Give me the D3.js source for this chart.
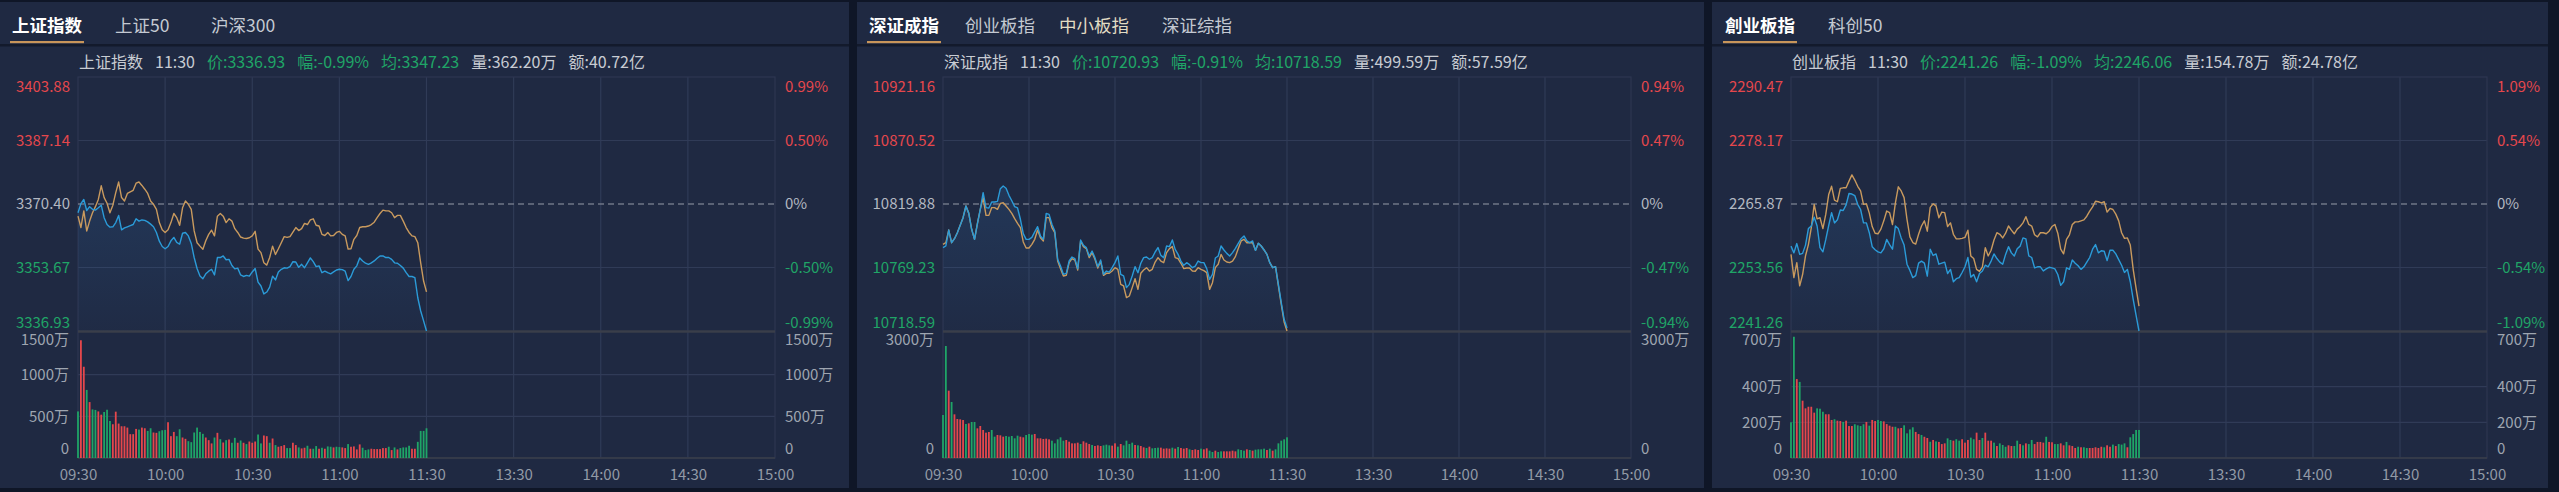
<!DOCTYPE html>
<html><head><meta charset="utf-8">
<script src="https://cdn.jsdelivr.net/npm/d3@7"></script>
<style>
html,body{margin:0;padding:0;background:#0f1627;}
svg{display:block;}
text{font-family:"Noto Sans CJK SC","Noto Sans",sans-serif;}
</style></head><body>
<svg id="c" width="2559" height="492"></svg>
<script>
// ---------------- DATA ----------------
const timeLabels = ["09:30","10:00","10:30","11:00","11:30","13:30","14:00","14:30","15:00"];
const timeTickIdx = [0,30,60,90,120,150,180,210,240];

// 上证指数
const shTabs = ["上证指数","上证50","沪深300"];
const shInfo = ["上证指数","11:30","价:3336.93","幅:-0.99%","均:3347.23","量:362.20万","额:40.72亿"];
const shYTicks = [3403.88,3387.14,3370.40,3353.67,3336.93];
const shPct = ["0.99%","0.50%","0%","-0.50%","-0.99%"];
const shVolTicks = [1500,1000,500,0];
const shPrice = [3368.1,3370.5,3371.6,3368.7,3369.7,3369.0,3368.8,3369.4,3370.1,3366.8,
3365.0,3364.3,3364.4,3365.5,3367.4,3363.6,3364.1,3364.4,3364.7,3365.0,
3366.5,3365.9,3366.2,3366.1,3365.7,3365.1,3364.4,3362.9,3360.6,3359.2,
3358.6,3359.2,3360.7,3361.6,3360.3,3359.8,3362.7,3362.9,3362.0,3360.0,
3356.3,3353.4,3351.4,3350.7,3352.0,3352.7,3353.2,3351.7,3356.3,3356.3,
3356.7,3355.7,3355.8,3354.2,3353.3,3353.5,3351.7,3351.3,3351.6,3351.4,
3352.5,3353.4,3349.8,3348.8,3346.7,3347.2,3348.5,3351.4,3350.4,3352.5,
3353.2,3353.6,3353.5,3353.9,3355.2,3355.1,3353.7,3354.5,3353.6,3354.9,
3356.2,3355.2,3353.9,3354.1,3352.3,3352.7,3352.3,3352.0,3352.5,3353.0,
3353.2,3353.1,3352.7,3350.2,3351.3,3353.2,3354.1,3356.2,3355.4,3354.8,
3354.5,3354.9,3355.4,3356.1,3356.7,3356.7,3356.3,3356.3,3355.8,3354.9,
3354.8,3354.2,3353.5,3352.3,3351.3,3351.3,3351.0,3345.7,3342.2,3339.6,
3336.93];
const shAvg = [3367.2,3364.2,3368.6,3363.3,3365.9,3368.1,3369.7,3371.6,3375.2,3372.1,
3370.6,3368.1,3370.1,3373.4,3376.2,3372.1,3371.2,3373.2,3373.6,3374.0,
3375.9,3376.2,3375.3,3374.3,3373.2,3371.2,3370.3,3369.0,3365.5,3363.6,
3362.9,3363.6,3365.5,3367.9,3366.8,3364.8,3369.4,3371.2,3370.3,3369.0,
3363.3,3360.2,3359.3,3358.5,3360.7,3362.4,3363.5,3362.0,3367.2,3367.9,
3367.2,3365.5,3366.5,3365.9,3363.9,3362.9,3361.7,3361.4,3361.3,3361.5,
3362.0,3363.2,3358.5,3357.6,3354.9,3354.3,3356.3,3359.3,3357.1,3358.6,
3360.2,3361.8,3361.6,3361.8,3363.0,3364.2,3363.4,3363.9,3365.3,3365.0,
3366.2,3366.5,3364.8,3364.6,3362.4,3362.1,3362.9,3362.0,3362.1,3362.9,
3363.2,3362.4,3362.0,3358.5,3358.6,3361.1,3362.1,3364.2,3364.4,3364.4,
3364.6,3365.0,3365.6,3366.8,3367.9,3368.8,3368.6,3368.6,3368.1,3366.8,
3367.4,3367.4,3365.9,3364.2,3362.9,3362.0,3361.8,3360.2,3354.9,3350.1,
3347.23];
const shVol = [559,1413,1095,817,671,583,577,559,520,552,
579,444,405,556,413,381,381,365,286,286,
349,341,365,357,325,357,306,302,321,333,
337,429,262,313,262,345,246,230,202,190,
306,365,313,290,246,214,175,246,302,226,
186,214,222,183,242,183,210,183,167,198,
183,198,282,175,270,262,183,234,155,135,
143,155,119,119,183,155,127,115,123,147,
111,111,143,111,123,111,139,135,127,135,
131,127,119,167,135,139,103,163,123,95,
103,111,107,107,107,119,119,135,95,127,
103,119,127,127,147,111,111,194,325,325,
357];
const shDir = ("GRRGRGGRRG"+"GGRRRRRRRR"+"RGRRGGRRGG"+"GRRRGGRRGG"+"GGGGRRRGRG"+"RGRGGRGRGR"+
"RRGGRRGRGR"+"RRGGRRGRRG"+"RGGRGRGGRG"+"GRRGRRRRGG"+"GRRRRRRGRG"+"RGGGGRRGGG"+"G").split("");

// 深证成指
const szTabs = ["深证成指","创业板指","中小板指","深证综指"];
const szInfo = ["深证成指","11:30","价:10720.93","幅:-0.91%","均:10718.59","量:499.59万","额:57.59亿"];
const szYTicks = [10921.16,10870.52,10819.88,10769.23,10718.59];
const szPct = ["0.94%","0.47%","0%","-0.47%","-0.94%"];
const szVolTicks = [3000,0];
const szPrice = [10785.1,10786.4,10799.1,10789.0,10792.2,10797.0,10802.9,10809.0,10818.3,10812.4,
10799.7,10791.7,10804.2,10815.6,10828.9,10817.0,10816.7,10821.5,10821.5,10822.0,
10832.1,10834.2,10832.4,10826.8,10822.5,10817.8,10816.7,10807.7,10796.2,10791.7,
10791.7,10793.3,10797.6,10801.8,10794.4,10791.7,10812.4,10811.6,10803.7,10798.3,
10775.8,10770.4,10763.8,10764.6,10774.4,10777.6,10776.3,10768.3,10791.2,10786.9,
10785.1,10778.4,10782.4,10777.1,10769.9,10775.2,10763.8,10766.4,10765.6,10769.1,
10773.1,10778.4,10763.8,10762.5,10753.2,10755.8,10762.5,10769.9,10765.1,10772.6,
10777.1,10777.6,10775.8,10777.1,10781.6,10785.1,10778.9,10777.1,10786.4,10785.9,
10791.2,10783.7,10779.7,10774.4,10771.0,10773.1,10771.5,10769.1,10770.4,10774.4,
10773.1,10773.1,10768.3,10759.8,10763.8,10776.8,10778.4,10786.4,10783.2,10780.5,
10778.4,10781.1,10784.5,10788.5,10792.2,10794.4,10790.4,10789.0,10790.4,10782.9,
10788.5,10786.4,10783.2,10779.7,10773.1,10769.1,10769.9,10755.8,10741.2,10727.9,
10720.93];
const szAvg = [10787.7,10789.0,10799.1,10789.0,10792.2,10797.0,10802.9,10809.0,10818.3,10812.4,
10799.7,10791.7,10804.2,10815.6,10824.9,10810.8,10810.8,10817.0,10817.0,10815.6,
10820.4,10820.9,10818.3,10815.6,10812.4,10808.2,10804.5,10801.0,10789.6,10784.8,
10784.8,10787.7,10791.7,10799.1,10793.0,10790.4,10809.0,10809.0,10801.0,10797.0,
10774.4,10768.3,10762.5,10763.0,10773.1,10776.3,10775.2,10767.2,10790.4,10785.9,
10784.3,10777.1,10781.1,10775.8,10768.8,10774.2,10763.0,10764.6,10764.6,10766.4,
10769.1,10767.8,10755.8,10754.5,10745.2,10746.5,10753.2,10760.3,10751.8,10764.6,
10767.2,10769.1,10766.4,10767.8,10773.6,10777.1,10774.4,10773.1,10781.1,10784.3,
10785.9,10777.1,10776.3,10772.6,10768.3,10768.8,10768.8,10766.4,10766.2,10769.1,
10767.8,10766.7,10765.1,10751.8,10757.1,10769.1,10771.8,10779.7,10775.2,10773.6,
10773.1,10774.4,10777.9,10784.3,10790.4,10791.7,10789.0,10789.0,10789.0,10782.9,
10788.5,10786.4,10783.2,10779.7,10773.1,10769.1,10769.9,10754.5,10739.9,10725.8,
10718.59];
const szVol = [1032,2688,1616,1344,1048,936,928,912,816,832,
864,864,712,768,672,608,624,672,512,552,
544,512,528,512,528,472,536,512,496,552,
576,560,576,472,472,456,464,448,416,352,
448,496,416,432,392,352,352,368,336,400,
368,336,312,288,304,288,304,320,304,296,
352,272,336,304,416,336,368,312,304,288,
256,240,272,232,240,248,248,224,232,224,
248,224,264,240,224,240,208,192,208,192,
224,208,232,176,144,176,144,160,160,160,
160,176,160,208,192,176,208,192,176,200,
208,208,224,192,224,176,208,352,416,448,
496];
const szDir = ("GGRGRRRRGR"+"GGRRRRRGGR"+"RRGGGGGRRG"+"GGRRRRRRGG"+"GGGRRRRRGR"+"RRGRRRGGGR"+
"RGRGGGGRGR"+"RGRGGGRRRR"+"GRGRRRGRRR"+"GRRGGRGGRR"+"RRRGGGRGRG"+"GGGRGRGGGG"+"G").split("");

// 创业板指
const cyTabs = ["創业板指","科创50"];
const cyInfo = ["创业板指","11:30","价:2241.26","幅:-1.09%","均:2246.06","量:154.78万","额:24.78亿"];
const cyYTicks = [2290.47,2278.17,2265.87,2253.56,2241.26];
const cyPct = ["1.09%","0.54%","0%","-0.54%","-1.09%"];
const cyVolTicks = [700,400,200,0];
const cyPrice = [2257.7,2256.4,2258.2,2256.1,2256.3,2257.9,2261.1,2261.6,2263.3,2261.6,
2257.4,2256.6,2259.0,2261.7,2264.2,2262.2,2262.8,2264.7,2264.6,2265.7,
2267.9,2267.8,2267.5,2265.8,2264.8,2262.2,2262.2,2260.3,2257.6,2257.0,
2256.6,2256.4,2257.2,2259.0,2258.0,2257.1,2261.6,2261.1,2259.3,2257.9,
2254.2,2253.0,2251.6,2252.0,2254.4,2254.8,2254.4,2251.9,2257.1,2255.9,
2256.2,2254.2,2254.4,2254.6,2252.4,2253.2,2250.8,2251.4,2251.6,2252.6,
2253.7,2255.5,2251.7,2252.2,2250.8,2252.4,2252.9,2254.0,2253.7,2254.8,
2256.2,2255.3,2254.6,2254.2,2256.1,2257.6,2256.4,2255.8,2257.2,2257.7,
2259.3,2259.1,2255.8,2255.5,2253.5,2253.7,2253.7,2252.9,2253.3,2253.6,
2253.5,2253.3,2252.2,2250.1,2250.8,2253.5,2253.2,2255.0,2254.4,2253.9,
2253.2,2253.7,2254.6,2255.5,2257.1,2258.0,2256.4,2256.8,2256.7,2254.9,
2256.9,2256.9,2256.2,2255.1,2254.0,2252.6,2253.2,2250.8,2247.4,2244.3,
2241.26];
const cyAvg = [2256.1,2251.6,2254.5,2250.0,2252.2,2255.8,2258.0,2261.3,2265.8,2263.0,
2263.2,2261.1,2263.9,2267.7,2269.3,2266.6,2266.3,2268.9,2269.0,2269.0,
2270.3,2271.5,2270.5,2269.3,2268.4,2265.8,2265.9,2264.1,2261.5,2260.2,
2260.1,2261.0,2262.6,2264.5,2264.2,2261.9,2266.1,2269.2,2268.4,2267.1,
2262.9,2259.5,2258.4,2258.1,2260.0,2261.6,2262.6,2260.6,2265.2,2265.9,
2265.5,2263.2,2264.3,2264.2,2261.5,2262.2,2260.0,2259.1,2259.1,2259.2,
2259.4,2260.8,2255.8,2255.3,2253.2,2252.8,2253.7,2257.4,2255.8,2256.9,
2258.9,2260.3,2260.0,2259.3,2260.2,2261.6,2260.8,2260.1,2261.0,2261.5,
2262.2,2263.4,2261.9,2261.6,2259.9,2259.5,2260.3,2260.3,2260.1,2260.6,
2261.5,2261.9,2260.2,2257.1,2256.2,2259.0,2259.9,2261.9,2262.4,2262.4,
2262.6,2262.8,2263.5,2264.5,2265.3,2266.4,2266.3,2266.1,2266.3,2264.3,
2265.0,2264.8,2263.9,2262.6,2260.3,2259.2,2259.3,2257.9,2253.2,2249.5,
2246.06];
const cyVol = [200,679,442,426,321,278,287,287,254,278,
276,259,245,245,213,217,209,207,202,209,
179,179,189,183,179,189,202,181,213,207,
213,207,205,190,181,175,175,166,168,183,
138,160,172,146,134,129,119,112,91,101,
93,90,78,82,110,101,97,105,97,105,
86,101,114,105,142,101,112,142,97,97,
86,67,82,73,63,71,67,67,97,78,
71,82,78,101,78,90,90,86,119,90,
88,78,78,82,71,90,71,67,56,63,
60,60,56,56,56,60,56,63,60,71,
63,75,67,78,75,82,60,116,134,157,
157];
const cyDir = ("GGRGRRRRRG"+"GGRRRGRRGR"+"RRGGGGRGRR"+"GGRRRRGRRG"+"GGGRRGRRGR"+"GRRRGGRGGR"+
"RRGGRRGRRR"+"GRGGGRRGGR"+"GRGGRRRRGR"+"RGGRRGRRRG"+"RGGRRRRRGR"+"RGRGGGRGGG"+"G").split("");

// ---------------- LAYOUT / STYLE ----------------
const W = 2559, H = 492;
const PRICE_TOP = 77, PRICE_BOT = 331, VOL_TOP = 333, VOL_BOT = 458;
const COL = {
  page:"#0f1627", panel:"#1f2942", sep:"#131a2c", grid:"#303b57", border:"#2d3651",
  thick:"#3a3e4a", dash:"#6f7687", red:"#e5474c", green:"#1fa567", gray:"#b3b8c1",
  volLbl:"#9ea5b0", xLbl:"#929aa6", info:"#c8ccd3", blue:"#2b9bd8", orange:"#c99a5e",
  tabOn:"#ffffff", tabOff:"#c4c9d2", underline:"#c8955a"
};

const panels = [
  {L:{px:0, pw:849, pl:78, pr:775, tabX:[12,115,211]},
   tabs:shTabs, info:shInfo, price:shPrice, avg:shAvg, vol:shVol, dir:shDir, yTicks:shYTicks, pct:shPct, volTicks:shVolTicks},
  {L:{px:857, pw:847, pl:943, pr:1631, tabX:[12,108,202,305]},
   tabs:szTabs, info:szInfo, price:szPrice, avg:szAvg, vol:szVol, dir:szDir, yTicks:szYTicks, pct:szPct, volTicks:szVolTicks},
  {L:{px:1712, pw:836, pl:1791, pr:2487, tabX:[13,116]},
   tabs:cyTabs, info:cyInfo, price:cyPrice, avg:cyAvg, vol:cyVol, dir:cyDir, yTicks:cyYTicks, pct:cyPct, volTicks:cyVolTicks}
];

const svg = d3.select("#c");
svg.append("rect").attr("width",W).attr("height",H).attr("fill",COL.page);

const defs = svg.append("defs");
const grad = defs.append("linearGradient").attr("id","areaGrad")
  .attr("gradientUnits","userSpaceOnUse").attr("x1",0).attr("x2",0).attr("y1",PRICE_TOP+60).attr("y2",PRICE_BOT);
grad.append("stop").attr("offset",0).attr("stop-color","#3a8fe0").attr("stop-opacity",0.18);
grad.append("stop").attr("offset",1).attr("stop-color","#3a8fe0").attr("stop-opacity",0.02);

const priceColors = [COL.red, COL.red, COL.gray, COL.green, COL.green];
const infoColors = [COL.info, COL.info, COL.green, COL.green, COL.green, COL.info, COL.info];

panels.forEach(P => {
  const L = P.L;
  const g = svg.append("g");
  g.append("rect").attr("x",L.px).attr("y",2).attr("width",L.pw).attr("height",486).attr("fill",COL.panel);
  g.append("rect").attr("x",L.px).attr("y",44).attr("width",L.pw).attr("height",2.5).attr("fill",COL.sep);

  P.tabs.forEach((s,i) => {
    const t = g.append("text").attr("x",L.px+L.tabX[i]).attr("y",24)
      .attr("dominant-baseline","central").attr("font-size",17.5)
      .attr("font-weight", i===0 ? 700 : 400)
      .attr("fill", i===0 ? COL.tabOn : (s==="中小板指" ? "#e2dcc4" : COL.tabOff))
      .text(s);
    if (i===0) {
      const w = t.node().getComputedTextLength();
      g.append("rect").attr("x",L.px+L.tabX[i]-2).attr("y",41).attr("width",w+4).attr("height",2.2).attr("fill",COL.underline);
    }
  });

  const info = g.append("text").attr("x",L.pl+1).attr("y",61).attr("dominant-baseline","central").attr("font-size",16);
  P.info.forEach((s,i) => info.append("tspan").attr("dx", i ? 12 : 0).attr("fill", infoColors[i]).text(s));

  const x = d3.scaleLinear().domain([0,240]).range([L.pl, L.pr]);
  const y = d3.scaleLinear().domain([P.yTicks[P.yTicks.length-1], P.yTicks[0]]).range([PRICE_BOT, PRICE_TOP]);
  const vy = d3.scaleLinear().domain([0, P.volTicks[0]]).range([VOL_BOT, VOL_TOP]);

  g.append("g").selectAll("line").data(timeTickIdx.slice(1,-1)).join("line")
    .attr("x1",d=>x(d)).attr("x2",d=>x(d)).attr("y1",PRICE_TOP).attr("y2",VOL_BOT)
    .attr("stroke",COL.grid).attr("stroke-width",1.2);
  g.append("g").selectAll("line").data([P.yTicks[1], P.yTicks[3]]).join("line")
    .attr("x1",L.pl).attr("x2",L.pr).attr("y1",d=>y(d)).attr("y2",d=>y(d))
    .attr("stroke",COL.grid).attr("stroke-width",1.2);
  g.append("g").selectAll("line").data(P.volTicks.slice(1,-1)).join("line")
    .attr("x1",L.pl).attr("x2",L.pr).attr("y1",d=>vy(d)).attr("y2",d=>vy(d))
    .attr("stroke",COL.grid).attr("stroke-width",1.2);
  g.append("rect").attr("x",L.pl).attr("y",PRICE_TOP).attr("width",L.pr-L.pl).attr("height",VOL_BOT-PRICE_TOP)
    .attr("fill","none").attr("stroke",COL.border).attr("stroke-width",1.2);
  g.append("line").attr("x1",L.pl).attr("x2",L.pr).attr("y1",PRICE_BOT+0.5).attr("y2",PRICE_BOT+0.5)
    .attr("stroke",COL.thick).attr("stroke-width",2.5);
  g.append("line").attr("x1",L.pl).attr("x2",L.pr).attr("y1",VOL_BOT).attr("y2",VOL_BOT)
    .attr("stroke",COL.thick).attr("stroke-width",1.5);

  g.append("path").datum(P.price)
    .attr("d", d3.area().x((d,i)=>x(i)).y0(PRICE_BOT).y1(d=>y(d)))
    .attr("fill","url(#areaGrad)");

  g.append("line").attr("x1",L.pl).attr("x2",L.pr).attr("y1",y(P.yTicks[2])).attr("y2",y(P.yTicks[2]))
    .attr("stroke",COL.dash).attr("stroke-width",1.5).attr("stroke-dasharray","6,4");

  const line = d3.line().x((d,i)=>x(i)).y(d=>y(d));
  g.append("path").datum(P.avg).attr("d",line).attr("fill","none")
    .attr("stroke",COL.orange).attr("stroke-width",1.4).attr("stroke-linejoin","round");
  g.append("path").datum(P.price).attr("d",line).attr("fill","none")
    .attr("stroke",COL.blue).attr("stroke-width",1.4).attr("stroke-linejoin","round");

  g.append("g").selectAll("rect").data(P.vol).join("rect")
    .attr("x",(d,i)=>x(i)-0.9).attr("width",1.8)
    .attr("y",d=>vy(d)).attr("height",d=>VOL_BOT-vy(d))
    .attr("fill",(d,i)=> P.dir[i]==="R" ? COL.red : COL.green);

  const styleAxis = (sel) => { sel.select(".domain").remove(); sel.attr("font-family",null).attr("font-size",15); };
  const offsetY = (i,n) => i===0 ? 10 : (i===n-1 ? -8 : 0);

  const ayL = g.append("g").attr("transform",`translate(${L.pl-8},0)`)
    .call(d3.axisLeft(y).tickValues(P.yTicks).tickSize(0).tickPadding(0).tickFormat(d3.format(".2f")));
  styleAxis(ayL);
  ayL.selectAll("text").attr("fill",(d,i)=>priceColors[i]).attr("y",(d,i)=>offsetY(i,P.yTicks.length));

  const ayR = g.append("g").attr("transform",`translate(${L.pr+10},0)`)
    .call(d3.axisRight(y).tickValues(P.yTicks).tickSize(0).tickPadding(0).tickFormat((d,i)=>P.pct[i]));
  styleAxis(ayR);
  ayR.selectAll("text").attr("fill",(d,i)=>priceColors[i]).attr("y",(d,i)=>offsetY(i,P.yTicks.length));

  const vfmt = d => d===0 ? "0" : d + "万";
  const vOff = (i,n) => i===0 ? 7 : (i===n-1 ? -9 : 0);
  const avL = g.append("g").attr("transform",`translate(${L.pl-9},0)`)
    .call(d3.axisLeft(vy).tickValues(P.volTicks).tickSize(0).tickPadding(0).tickFormat(vfmt));
  styleAxis(avL);
  avL.selectAll("text").attr("fill",COL.volLbl).attr("y",(d,i)=>vOff(i,P.volTicks.length));
  const avR = g.append("g").attr("transform",`translate(${L.pr+10},0)`)
    .call(d3.axisRight(vy).tickValues(P.volTicks).tickSize(0).tickPadding(0).tickFormat(vfmt));
  styleAxis(avR);
  avR.selectAll("text").attr("fill",COL.volLbl).attr("y",(d,i)=>vOff(i,P.volTicks.length));

  const ax = g.append("g").attr("transform",`translate(0,${VOL_BOT})`)
    .call(d3.axisBottom(x).tickValues(timeTickIdx).tickSize(0).tickPadding(0).tickFormat((d,i)=>timeLabels[i]));
  styleAxis(ax);
  ax.selectAll("text").attr("fill",COL.xLbl).attr("y",17).attr("dy","0.32em");
});
</script>
</body></html>
